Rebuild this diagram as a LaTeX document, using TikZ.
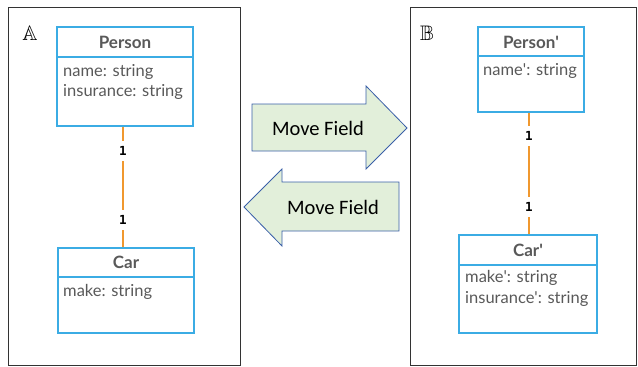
\documentclass[tikz,border=0pt]{standalone}
\usepackage{amssymb}
\usepackage{fontspec}
\setmainfont{Lato}
\newfontfamily\calib{Carlito}
\newfontfamily\monof{DejaVu Sans Mono}
\newcommand{\apos}{\textquotesingle}
\definecolor{umlblue}{HTML}{3BACE4}
\definecolor{umltext}{HTML}{595959}
\definecolor{assoc}{HTML}{F0982F}
\definecolor{arrfill}{HTML}{E2EFDA}
\definecolor{arrdraw}{HTML}{3A5FA8}
\definecolor{frame}{HTML}{333333}
\begin{document}
\begin{tikzpicture}[x=1pt,y=-1pt,
  frm/.style={draw=frame,line width=0.9pt},
  cls/.style={draw=umlblue,line width=1.6pt},
  hdr/.style={font=\fontsize{17}{18}\selectfont\bfseries,text=umltext,inner sep=0pt},
  attr/.style={font=\fontsize{16.5}{18}\selectfont,text=umltext,anchor=west,inner sep=0pt},
  mult/.style={font=\monof\bfseries\fontsize{12.5}{13}\selectfont,fill=white,inner xsep=3pt,inner ysep=5pt},
  assocl/.style={draw=assoc,line width=1.6pt},
  bigarr/.style={draw=arrdraw,fill=arrfill,line width=0.8pt},
  arrtxt/.style={font=\calib\fontsize{20.5}{22}\selectfont,inner sep=0pt},
  lbl/.style={font=\fontsize{21}{22}\selectfont,inner sep=0pt}]
\useasboundingbox (0,0) rectangle (638,367);
% frames
\draw[frm] (8,7) rectangle (240,365);
\draw[frm] (410,7) rectangle (636,365);
\node[lbl] (la) at (30,33) {$\mathbb{A}$};
\node[lbl] (lb) at (427,33) {$\mathbb{B}$};
% Class boxes A
\node[cls,minimum width=136pt,minimum height=99pt,inner sep=0pt] (p) at (125,76.5) {};
\draw[cls] (57,57) -- (193,57);
\node[hdr] (ph) at (125,42) {Person};
\node[attr] (pa1) at (63,72) {name: string};
\node[attr] (pa2) at (63,92) {insurance: string};
\node[cls,minimum width=136pt,minimum height=85pt,inner sep=0pt] (c) at (126,290.5) {};
\draw[cls] (58,277) -- (194,277);
\node[hdr] (ch) at (126,262) {Car};
\node[attr] (ca1) at (63,292) {make: string};
% association A
\draw[assocl] (p.south -| 123,0) -- (c.north -| 123,0);
\node[mult] (m1) at (123,151) {1};
\node[mult] (m2) at (123,220) {1};
% Class boxes B
\node[cls,minimum width=106pt,minimum height=85pt,inner sep=0pt] (p2) at (531,69.5) {};
\draw[cls] (478,56) -- (584,56);
\node[hdr] (p2h) at (531,42) {Person\apos};
\node[attr] (p2a1) at (483,71) {name\apos: string};
\node[cls,minimum width=138pt,minimum height=98pt,inner sep=0pt] (c2) at (528,284) {};
\draw[cls] (459,265) -- (597,265);
\node[hdr] (c2h) at (528,250) {Car\apos};
\node[attr] (c2a1) at (465,278) {make\apos: string};
\node[attr] (c2a2) at (465,299) {insurance\apos: string};
% association B
\draw[assocl] (p2.south -| 529,0) -- (c2.north -| 529,0);
\node[mult] (m3) at (529,136) {1};
\node[mult] (m4) at (529,207) {1};
% big arrows
\draw[bigarr] (252,104) -- (366,104) -- (366,86) -- (407,128) -- (366,169) -- (366,151) -- (252,151) -- cycle;
\node[arrtxt] (t1) at (318,128) {Move Field};
\draw[bigarr] (399,182) -- (282,182) -- (282,169) -- (244,207) -- (282,246) -- (282,231) -- (399,231) -- cycle;
\node[arrtxt] (t2) at (333,207) {Move Field};
\end{tikzpicture}
\end{document}
